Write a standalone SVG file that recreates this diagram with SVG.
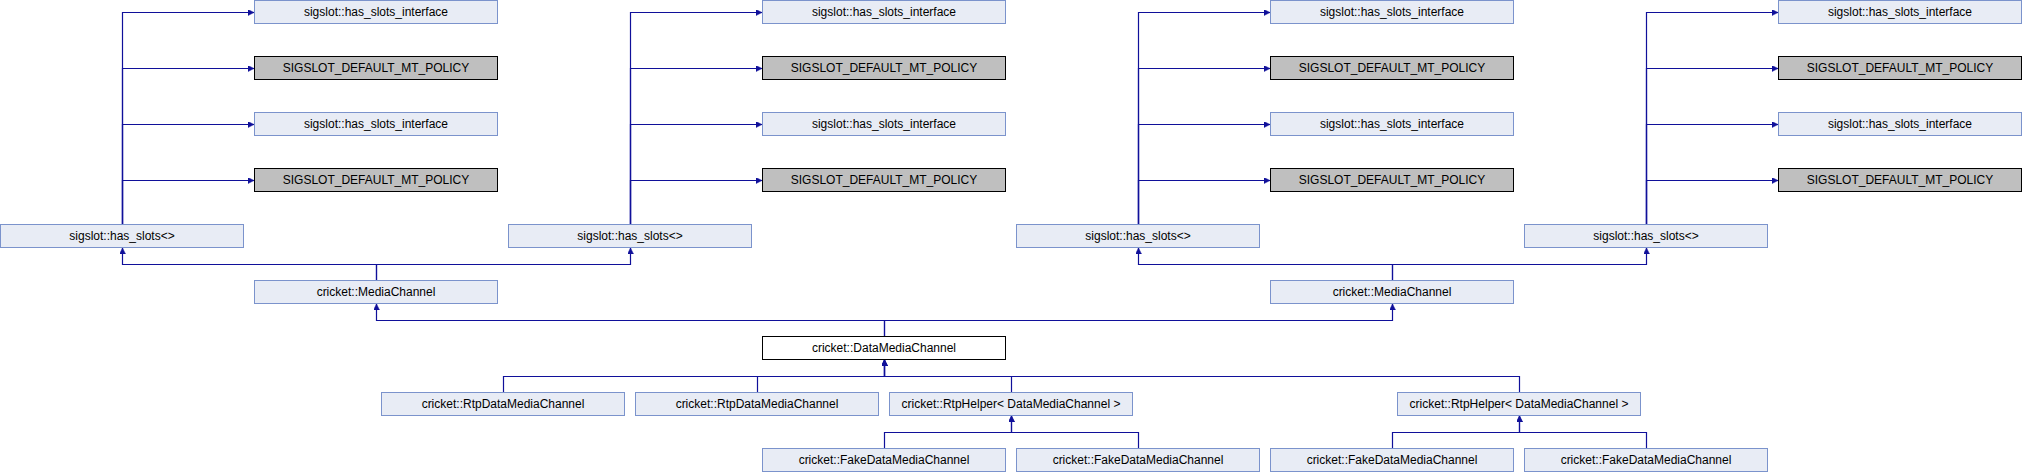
<svg xmlns="http://www.w3.org/2000/svg" width="2022" height="472" viewBox="0 0 2022 472">
<style>
.n rect{fill:#e8ecf5;stroke:#7b93cc;stroke-width:1}
.g rect{fill:#bfbfbf;stroke:#000;stroke-width:1}
.w rect{fill:#fff;stroke:#000;stroke-width:1}
text{font-family:"Liberation Sans",Arial,sans-serif;font-size:12px;text-anchor:middle;fill:#000}
#edges path{fill:none;stroke:#10109a;stroke-width:1.2;marker-end:url(#ah)}
</style>
<defs>
<marker id="ah" markerUnits="userSpaceOnUse" markerWidth="7" markerHeight="6" refX="6" refY="3" orient="auto">
<path d="M0,0 L6,3 L0,6 z" fill="#10109a" stroke="#10109a" stroke-width="0.5"/>
</marker>
</defs>
<rect width="2022" height="472" fill="#fff"/>
<g id="edges">
<path d="M122.5,224V12.5H254"/><path d="M122.5,224V68.5H254"/><path d="M122.5,224V124.5H254"/><path d="M122.5,224V180.5H254"/>
<path d="M630.5,224V12.5H762"/><path d="M630.5,224V68.5H762"/><path d="M630.5,224V124.5H762"/><path d="M630.5,224V180.5H762"/>
<path d="M1138.5,224V12.5H1270"/><path d="M1138.5,224V68.5H1270"/><path d="M1138.5,224V124.5H1270"/><path d="M1138.5,224V180.5H1270"/>
<path d="M1646.5,224V12.5H1778"/><path d="M1646.5,224V68.5H1778"/><path d="M1646.5,224V124.5H1778"/><path d="M1646.5,224V180.5H1778"/>
<path d="M376.5,280V264.5H122.5V248"/><path d="M376.5,280V264.5H630.5V248"/>
<path d="M1392.5,280V264.5H1138.5V248"/><path d="M1392.5,280V264.5H1646.5V248"/>
<path d="M884.5,336V320.5H376.5V304"/><path d="M884.5,336V320.5H1392.5V304"/>
<path d="M503.5,392V376.5H884.5V360"/><path d="M757.5,392V376.5H884.5V360"/><path d="M1011.5,392V376.5H884.5V360"/><path d="M1519.5,392V376.5H884.5V360"/>
<path d="M884.5,448V432.5H1011.5V416"/><path d="M1138.5,448V432.5H1011.5V416"/>
<path d="M1392.5,448V432.5H1519.5V416"/><path d="M1646.5,448V432.5H1519.5V416"/>
</g>
<g id="iface1a" class="n"><rect x="254.5" y="0.5" width="243" height="23"/><text x="376" y="16">sigslot::has_slots_interface</text></g>
<g id="policy1a" class="g"><rect x="254.5" y="56.5" width="243" height="23"/><text x="376" y="72">SIGSLOT_DEFAULT_MT_POLICY</text></g>
<g id="iface1b" class="n"><rect x="254.5" y="112.5" width="243" height="23"/><text x="376" y="128">sigslot::has_slots_interface</text></g>
<g id="policy1b" class="g"><rect x="254.5" y="168.5" width="243" height="23"/><text x="376" y="184">SIGSLOT_DEFAULT_MT_POLICY</text></g>
<g id="iface2a" class="n"><rect x="762.5" y="0.5" width="243" height="23"/><text x="884" y="16">sigslot::has_slots_interface</text></g>
<g id="policy2a" class="g"><rect x="762.5" y="56.5" width="243" height="23"/><text x="884" y="72">SIGSLOT_DEFAULT_MT_POLICY</text></g>
<g id="iface2b" class="n"><rect x="762.5" y="112.5" width="243" height="23"/><text x="884" y="128">sigslot::has_slots_interface</text></g>
<g id="policy2b" class="g"><rect x="762.5" y="168.5" width="243" height="23"/><text x="884" y="184">SIGSLOT_DEFAULT_MT_POLICY</text></g>
<g id="iface3a" class="n"><rect x="1270.5" y="0.5" width="243" height="23"/><text x="1392" y="16">sigslot::has_slots_interface</text></g>
<g id="policy3a" class="g"><rect x="1270.5" y="56.5" width="243" height="23"/><text x="1392" y="72">SIGSLOT_DEFAULT_MT_POLICY</text></g>
<g id="iface3b" class="n"><rect x="1270.5" y="112.5" width="243" height="23"/><text x="1392" y="128">sigslot::has_slots_interface</text></g>
<g id="policy3b" class="g"><rect x="1270.5" y="168.5" width="243" height="23"/><text x="1392" y="184">SIGSLOT_DEFAULT_MT_POLICY</text></g>
<g id="iface4a" class="n"><rect x="1778.5" y="0.5" width="243" height="23"/><text x="1900" y="16">sigslot::has_slots_interface</text></g>
<g id="policy4a" class="g"><rect x="1778.5" y="56.5" width="243" height="23"/><text x="1900" y="72">SIGSLOT_DEFAULT_MT_POLICY</text></g>
<g id="iface4b" class="n"><rect x="1778.5" y="112.5" width="243" height="23"/><text x="1900" y="128">sigslot::has_slots_interface</text></g>
<g id="policy4b" class="g"><rect x="1778.5" y="168.5" width="243" height="23"/><text x="1900" y="184">SIGSLOT_DEFAULT_MT_POLICY</text></g>
<g id="hasslots1" class="n"><rect x="0.5" y="224.5" width="243" height="23"/><text x="122" y="240">sigslot::has_slots&lt;&gt;</text></g>
<g id="hasslots2" class="n"><rect x="508.5" y="224.5" width="243" height="23"/><text x="630" y="240">sigslot::has_slots&lt;&gt;</text></g>
<g id="hasslots3" class="n"><rect x="1016.5" y="224.5" width="243" height="23"/><text x="1138" y="240">sigslot::has_slots&lt;&gt;</text></g>
<g id="hasslots4" class="n"><rect x="1524.5" y="224.5" width="243" height="23"/><text x="1646" y="240">sigslot::has_slots&lt;&gt;</text></g>
<g id="media1" class="n"><rect x="254.5" y="280.5" width="243" height="23"/><text x="376" y="296">cricket::MediaChannel</text></g>
<g id="media2" class="n"><rect x="1270.5" y="280.5" width="243" height="23"/><text x="1392" y="296">cricket::MediaChannel</text></g>
<g id="datamedia" class="w"><rect x="762.5" y="336.5" width="243" height="23"/><text x="884" y="352">cricket::DataMediaChannel</text></g>
<g id="rtpdata1" class="n"><rect x="381.5" y="392.5" width="243" height="23"/><text x="503" y="408">cricket::RtpDataMediaChannel</text></g>
<g id="rtpdata2" class="n"><rect x="635.5" y="392.5" width="243" height="23"/><text x="757" y="408">cricket::RtpDataMediaChannel</text></g>
<g id="rtphelper1" class="n"><rect x="889.5" y="392.5" width="243" height="23"/><text x="1011" y="408">cricket::RtpHelper&lt; DataMediaChannel &gt;</text></g>
<g id="rtphelper2" class="n"><rect x="1397.5" y="392.5" width="243" height="23"/><text x="1519" y="408">cricket::RtpHelper&lt; DataMediaChannel &gt;</text></g>
<g id="fake1" class="n"><rect x="762.5" y="448.5" width="243" height="23"/><text x="884" y="464">cricket::FakeDataMediaChannel</text></g>
<g id="fake2" class="n"><rect x="1016.5" y="448.5" width="243" height="23"/><text x="1138" y="464">cricket::FakeDataMediaChannel</text></g>
<g id="fake3" class="n"><rect x="1270.5" y="448.5" width="243" height="23"/><text x="1392" y="464">cricket::FakeDataMediaChannel</text></g>
<g id="fake4" class="n"><rect x="1524.5" y="448.5" width="243" height="23"/><text x="1646" y="464">cricket::FakeDataMediaChannel</text></g>
</svg>
